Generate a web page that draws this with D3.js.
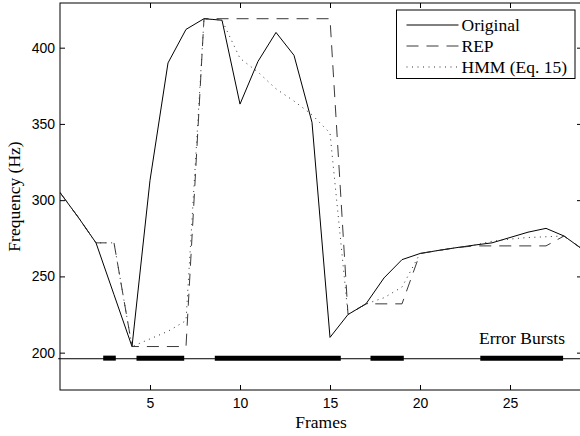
<!DOCTYPE html>
<head>
  <meta charset="utf-8">
  <script src="https://d3js.org/d3.v7.min.js"></script>
  <style>
  body { margin: 0; background: #fff; }
  .tick text { font-family: "Liberation Sans", Arial, sans-serif; font-size: 14px; fill: #000; }
  .tick line { stroke: #000; }
  .lbl { font-family: "Liberation Serif", "Times New Roman", serif; font-size: 17.5px; fill: #000; }
  .line { fill: none; }
  </style>
</head>
<body>
<script>
// frames and the three pitch tracks
var frames   = [0, 1, 2, 3, 4, 5, 6, 7, 8, 9, 10, 11, 12, 13, 14, 15, 16, 17, 18, 19, 20, 21, 22, 23, 24, 25, 26, 27, 28, 29];
var original = [305, 289, 272, 238, 204, 313, 390, 412, 419, 418, 363, 391, 410, 395, 351, 210, 225, 232, 249, 261, 265, 267, 268.8, 270.5, 272, 275.5, 279, 281.5, 276.5, 268];
var rep      = [305, 289, 272, 272, 204, 204, 204, 204, 419, 419, 419, 419, 419, 419, 419, 419, 225, 232, 232, 232, 265, 267, 268.8, 270, 270, 270, 270, 270, 276.5, 268];
var hmm      = [305, 289, 272, 272, 204, 209, 214, 221, 419, 418, 393, 384, 373, 365, 356, 344, 225, 232, 236, 243, 265, 267, 268.8, 270.5, 273, 274.5, 275.5, 276, 276.5, 268];

// error bursts (frame spans)
var burstStart = [2.4, 4.25, 8.6, 17.25, 23.35];
var burstEnd   = [3.1, 6.9, 15.6, 19.1, 27.95];
var burstLevel = 196;

var xTicks = [5, 10, 15, 20, 25];
var yTicks = [200, 250, 300, 350, 400];
var seriesNames = ["Original", "REP", "HMM (Eq. 15)"];

var W = 580, H = 436;
var mLeft = 60, mRight = 582, mTop = 3, mBottom = 390;

var svg = d3.select("body").append("svg")
    .attr("width", W).attr("height", H);

var x = d3.scaleLinear().domain([0, 29]).range([mLeft, mRight]);
var y = d3.scaleLinear().domain([175.5, 429.3]).range([mBottom, mTop]);

svg.append("clipPath").attr("id", "clip")
  .append("rect").attr("x", mLeft).attr("y", mTop)
  .attr("width", mRight - mLeft).attr("height", mBottom - mTop);

var plot = svg.append("g").attr("clip-path", "url(#clip)");

var line = d3.line()
    .x(function(d, i) { return x(frames[i]); })
    .y(function(d) { return y(d); });

// error burst baseline and bars
svg.append("line")
    .attr("x1", x(-0.1)).attr("x2", x(29))
    .attr("y1", y(burstLevel)).attr("y2", y(burstLevel))
    .attr("stroke", "#000").attr("stroke-width", 1);

plot.selectAll(".burst").data(burstStart).enter().append("line")
    .attr("class", "burst")
    .attr("x1", function(d) { return x(d); })
    .attr("x2", function(d, i) { return x(burstEnd[i]); })
    .attr("y1", y(burstLevel + 0.4)).attr("y2", y(burstLevel + 0.4))
    .attr("stroke", "#000").attr("stroke-width", 5);

var styles = [
  { stroke: "#000", width: 1, dash: null },
  { stroke: "#222", width: 0.9, dash: "12,8" },
  { stroke: "#333", width: 1, dash: "1,4.5" }
];
var series = [original, rep, hmm];

series.forEach(function(s, k) {
  plot.append("path")
    .datum(s)
    .attr("class", "line")
    .attr("d", line)
    .attr("stroke", styles[k].stroke)
    .attr("stroke-width", styles[k].width)
    .attr("stroke-dasharray", styles[k].dash);
});

// axes, ticks pointing inward on all four sides
var gx = svg.append("g").attr("transform", "translate(0," + mBottom + ")")
  .call(d3.axisBottom(x).tickValues(xTicks).tickSize(-5).tickPadding(8));
var gxt = svg.append("g").attr("transform", "translate(0," + mTop + ")")
  .call(d3.axisTop(x).tickValues(xTicks).tickSize(-5).tickFormat(""));
var gy = svg.append("g").attr("transform", "translate(" + mLeft + ",0)")
  .call(d3.axisLeft(y).tickValues(yTicks).tickSize(-5).tickPadding(5));
var gyr = svg.append("g").attr("transform", "translate(" + mRight + ",0)")
  .call(d3.axisRight(y).tickValues(yTicks).tickSize(-5).tickFormat(""));
[gx, gxt, gy, gyr].forEach(function(g) { g.select(".domain").remove(); });

svg.append("rect")
    .attr("x", mLeft).attr("y", mTop)
    .attr("width", mRight - mLeft).attr("height", mBottom - mTop)
    .attr("fill", "none").attr("stroke", "#000").attr("stroke-width", 1);

// labels
svg.append("text").attr("class", "lbl")
    .attr("x", 321).attr("y", 428)
    .attr("text-anchor", "middle")
    .text("Frames");

svg.append("text").attr("class", "lbl")
    .attr("transform", "translate(20," + ((mTop + mBottom) / 2) + ") rotate(-90)")
    .attr("text-anchor", "middle")
    .text("Frequency (Hz)");

svg.append("text").attr("class", "lbl")
    .attr("x", 479).attr("y", 344)
    .text("Error Bursts");

// legend
var lg = svg.append("g");
lg.append("rect")
    .attr("x", 396.5).attr("y", 10)
    .attr("width", 178.5).attr("height", 68.5)
    .attr("fill", "#fff").attr("stroke", "#000").attr("stroke-width", 1);

seriesNames.forEach(function(name, k) {
  var ry = 25 + k * 21;
  lg.append("line")
    .attr("x1", 406.5).attr("x2", 458.5)
    .attr("y1", ry).attr("y2", ry)
    .attr("stroke", styles[k].stroke)
    .attr("stroke-width", styles[k].width)
    .attr("stroke-dasharray", styles[k].dash);
  lg.append("text").attr("class", "lbl")
    .attr("x", 461.5).attr("y", ry + 6)
    .text(name);
});
</script>
</body>
